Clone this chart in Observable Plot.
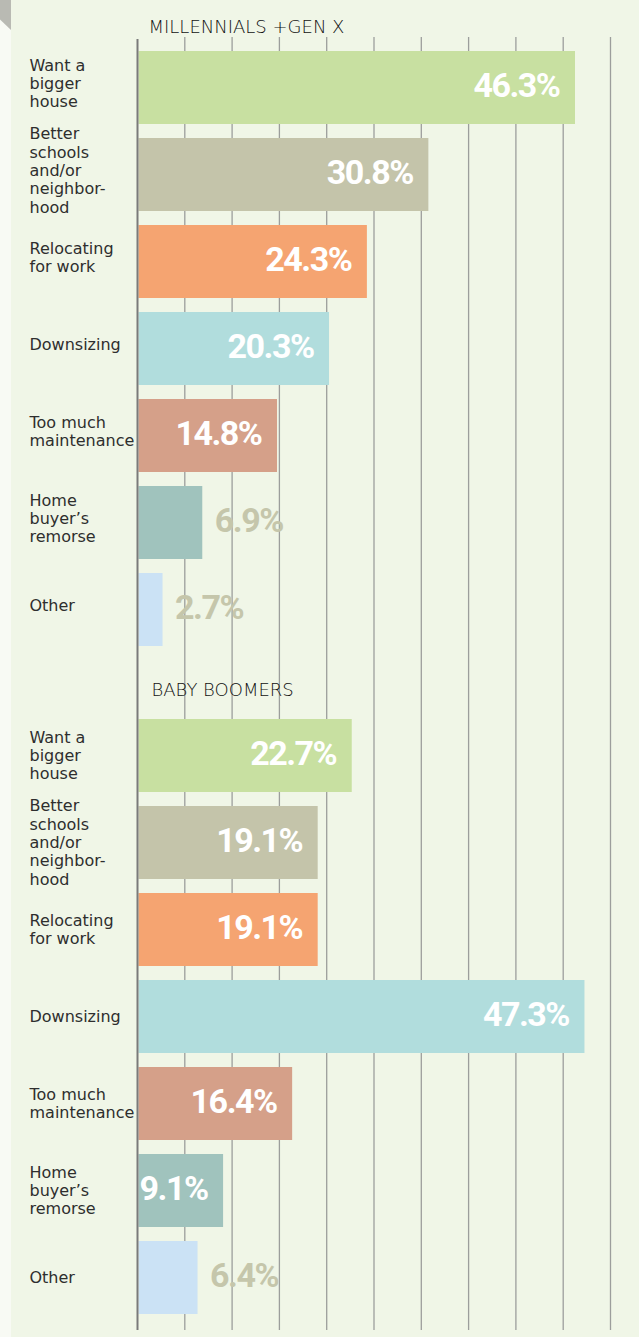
<!DOCTYPE html>
<html><head><meta charset="utf-8">
<script src="https://cdn.jsdelivr.net/npm/d3@7"></script>
<script src="https://cdn.jsdelivr.net/npm/@observablehq/plot@0.6"></script>
<style>
html,body{margin:0;padding:0;background:#f0f6e7;}
#chart{position:relative;width:639px;height:1337px;overflow:hidden;}
#chart svg{display:block;}
#chart svg g[font-size="34"]{letter-spacing:-1.5px;}
#strip{position:absolute;left:0;top:0;width:11px;height:1337px;background:#f8faf4;z-index:2;}
#corner{position:absolute;left:0;top:0;width:11px;height:30px;background:#b9bab3;clip-path:polygon(0 0,100% 0,100% 100%,0 65%);z-index:3;}
</style></head><body>
<div id="chart"><div id="strip"></div><div id="corner"></div></div>
<script>
const categories = ["Want a\nbigger\nhouse", "Better\nschools\nand/or\nneighbor-\nhood", "Relocating\nfor work", "Downsizing", "Too much\nmaintenance", "Home\nbuyer’s\nremorse", "Other"];
const barColors = ["#c8e0a1", "#c4c4aa", "#f5a471", "#b1dddd", "#d5a089", "#a0c3bd", "#cbe2f5"];
const groupTitles = ["MILLENNIALS +GEN X", "BABY BOOMERS"];
const millennialsGenX = [46.3, 30.8, 24.3, 20.3, 14.8, 6.9, 2.7];
const babyBoomers = [22.7, 19.1, 19.1, 47.3, 16.4, 9.1, 6.4];
const gridTicks = [5, 10, 15, 20, 25, 30, 35, 40, 45, 50];

const valueFont = "Roboto, 'Liberation Sans', sans-serif";
const labelFont = "'DejaVu Sans', sans-serif";

function makePlot(title, values, o) {
  const data = categories.map((category, i) => ({category, value: values[i], color: barColors[i]}));
  return Plot.plot({
    width: 639,
    height: o.height,
    marginLeft: 137,
    marginRight: 29,
    marginTop: o.marginTop,
    marginBottom: o.marginBottom,
    style: {background: "#f0f6e7", fontFamily: labelFont},
    x: {domain: [0, 50], axis: null},
    y: {domain: categories, axis: null, padding: 0.16},
    color: {type: "identity"},
    marks: [
      Plot.ruleX(gridTicks, {stroke: "#9c9e9c", strokeWidth: 1.3, insetTop: o.gridInsetTop, insetBottom: o.gridInsetBottom}),
      Plot.barX(data, {x: "value", y: "category", fill: "color", insetLeft: 1.5}),
      Plot.ruleX([0], {stroke: "#7a7a7a", strokeWidth: 2, insetTop: o.axisInsetTop, insetBottom: o.gridInsetBottom}),
      Plot.text(data, {y: "category", text: "category", frameAnchor: "left", textAnchor: "start", dx: -108, dy: o.labelDy, fontSize: 16, lineHeight: 1.15, fill: "#2e2e2e"}),
      Plot.text(data.filter(d => d.value >= 8), {x: "value", y: "category", text: d => d.value.toFixed(1) + "%", textAnchor: "end", dx: -16, dy: -2, fill: "white", fontSize: 34, fontWeight: "bold", fontFamily: valueFont}),
      Plot.text(data.filter(d => d.value < 8), {x: "value", y: "category", text: d => d.value.toFixed(1) + "%", textAnchor: "start", dx: 12, dy: -2, fill: "#c5c6ab", fontSize: 34, fontWeight: "bold", fontFamily: valueFont}),
      Plot.text([title], {frameAnchor: "top-left", textAnchor: "start", dx: o.titleDx, dy: o.titleDy, fontSize: 18, fontWeight: 300, fill: "#111"})
    ]
  });
}

const chart = document.getElementById("chart");
chart.appendChild(makePlot(groupTitles[0], millennialsGenX, {height: 664, marginTop: 34, marginBottom: 0, gridInsetTop: 3, axisInsetTop: 5, gridInsetBottom: 0, labelDy: -5, titleDx: 11, titleDy: -14}));
chart.appendChild(makePlot(groupTitles[1], babyBoomers, {height: 673, marginTop: 38, marginBottom: 5, gridInsetTop: -38, axisInsetTop: -38, gridInsetBottom: 2, labelDy: -1, titleDx: 14, titleDy: -19}));
</script>
</body></html>
